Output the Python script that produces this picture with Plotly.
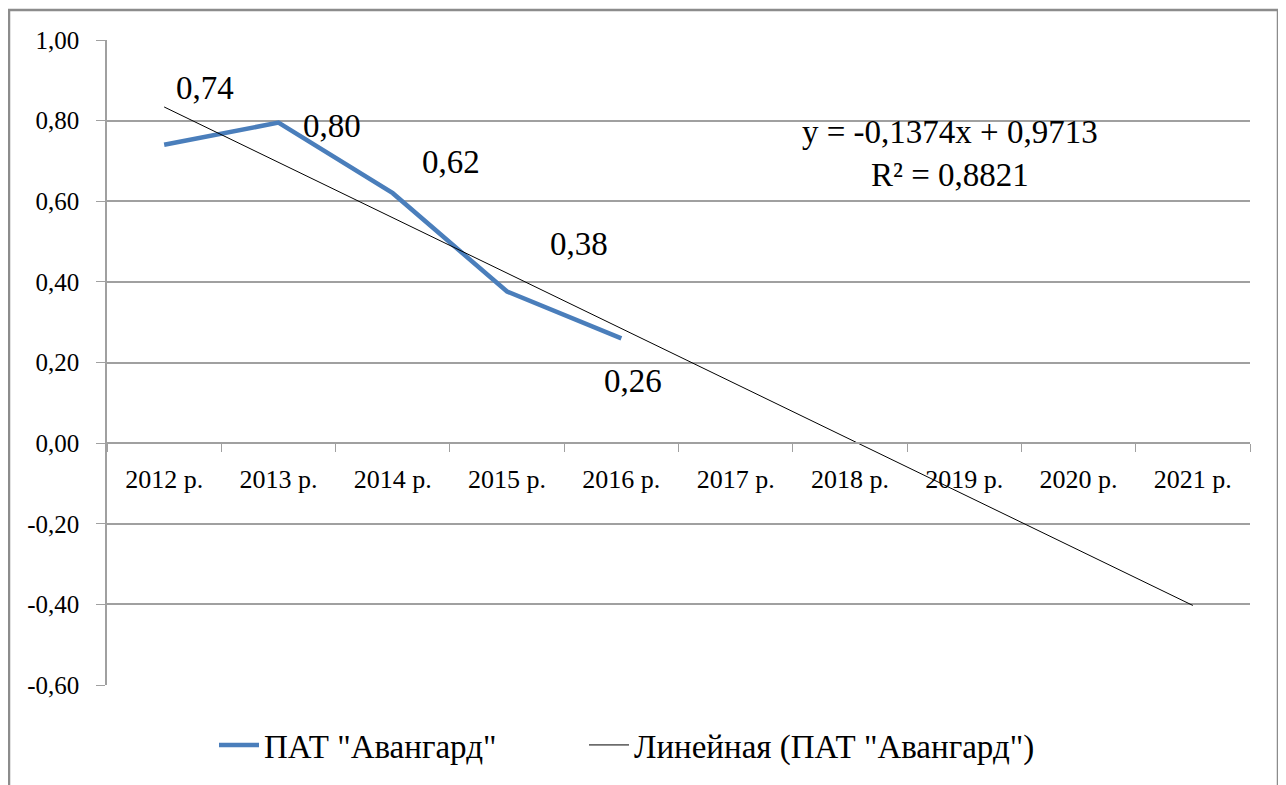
import plotly.graph_objects as go

categories = ["2012 р.", "2013 р.", "2014 р.", "2015 р.", "2016 р.",
              "2017 р.", "2018 р.", "2019 р.", "2020 р.", "2021 р."]
values = [0.74, 0.795, 0.62, 0.376, 0.26]
trend_slope = -0.1374
trend_intercept = 0.9713
trend_r2 = 0.8821
y_ticks = [-0.6, -0.4, -0.2, 0.0, 0.2, 0.4, 0.6, 0.8, 1.0]
series_name = 'ПАТ "Авангард"'
trend_name = 'Линейная (ПАТ "Авангард")'

FONT = "Liberation Serif"


def fmt(v, d=2):
    return f"{v:.{d}f}".replace(".", ",")


trend_vals = [trend_intercept + trend_slope * (i + 1) for i in range(len(categories))]

fig = go.Figure()
fig.add_trace(go.Scatter(
    x=categories[:len(values)], y=values, mode="lines", name=series_name,
    line=dict(color="#4A7EBB", width=4.5), legend="legend",
))
fig.add_trace(go.Scatter(
    x=categories, y=trend_vals, mode="lines", name=trend_name,
    line=dict(color="#000000", width=1), legend="legend2",
))

# data labels (manually offset as in the reference)
offsets = [(41, 57), (54, -3), (58, 31), (72, 48), (12, -43)]
for i, v in enumerate(values):
    dx, dy = offsets[i]
    fig.add_annotation(x=categories[i], y=v, text=fmt(v), showarrow=False,
                       xshift=dx, yshift=dy,
                       font=dict(family=FONT, size=33, color="#000000"))

eq_text = "y = " + fmt(trend_slope, 4) + "x + " + fmt(trend_intercept, 4)
r2_text = "R² = " + fmt(trend_r2, 4)
fig.add_annotation(x=6.875, y=0.772, text=eq_text, showarrow=False,
                   font=dict(family=FONT, size=33, color="#000000"))
fig.add_annotation(x=6.875, y=0.665, text=r2_text, showarrow=False,
                   font=dict(family=FONT, size=33, color="#000000"))

# outer chart border
fig.add_shape(type="rect", xref="paper", yref="paper",
              x0=(9 - 107) / 1143, x1=(1278 - 107) / 1143,
              y0=(685 - 800) / 645, y1=(685 - 10) / 645,
              line=dict(color="#8C8C8C", width=2.5), layer="below")

legend_common = dict(orientation="h", xanchor="left", y=-0.093, yanchor="middle",
                     font=dict(family=FONT, size=33), itemwidth=40,
                     bgcolor="rgba(0,0,0,0)")

fig.update_layout(
    width=1278, height=777,
    margin=dict(l=99, r=36, t=32, b=100),
    paper_bgcolor="white", plot_bgcolor="white",
    font=dict(family=FONT, color="#000000"),
    showlegend=True,
    legend=dict(x=(214 - 107) / 1143, **legend_common),
    legend2=dict(x=(584 - 107) / 1143, **legend_common),
    xaxis=dict(
        type="category", categoryorder="array", categoryarray=categories,
        range=[-0.5, len(categories) - 0.5],
        anchor="free", position=0.375,
        showgrid=False, showline=True, linecolor="#A0A0A0", linewidth=1.5,
        ticks="outside", tickson="boundaries", ticklen=8, tickcolor="#A0A0A0",
        ticklabelstandoff=13,
        tickfont=dict(family=FONT, size=26), zeroline=False,
    ),
    yaxis=dict(
        range=[-0.6, 1.0], tickvals=y_ticks, ticktext=[fmt(t) for t in y_ticks],
        showgrid=True, gridcolor="#A0A0A0", gridwidth=1.5,
        showline=True, linecolor="#A0A0A0", linewidth=1.5,
        ticks="outside", ticklen=9, tickcolor="#A0A0A0",
        ticklabelstandoff=12,
        tickfont=dict(family=FONT, size=25), zeroline=False,
    ),
)

fig.write_html("out.html")
